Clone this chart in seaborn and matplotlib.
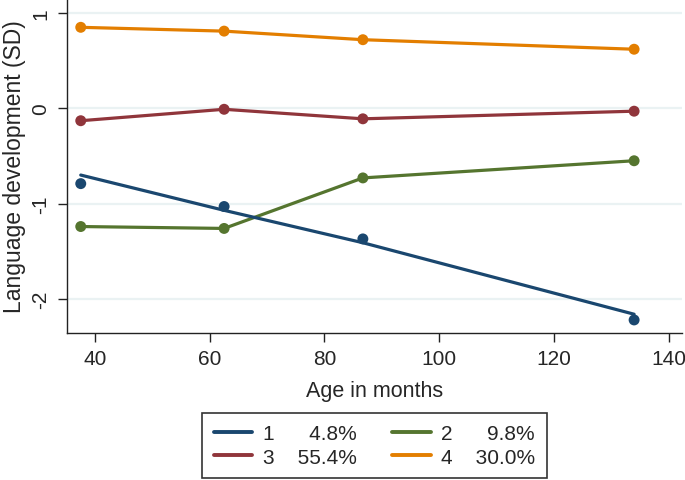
import matplotlib
matplotlib.use("Agg")
import matplotlib.pyplot as plt
import seaborn as sns
import pandas as pd
from matplotlib.lines import Line2D

# ---- data ----
ages = [37.5, 62.5, 86.7, 134.0]
class_names = ["1", "2", "3", "4"]
class_pct = ["4.8%", "9.8%", "55.4%", "30.0%"]
obs_1 = [-0.79, -1.03, -1.37, -2.22]
fit_1 = [-0.70, -1.07, -1.41, -2.16]
obs_2 = [-1.24, -1.26, -0.73, -0.55]
obs_3 = [-0.13, -0.01, -0.11, -0.03]
obs_4 = [0.85, 0.81, 0.72, 0.62]
x_ticks = [40, 60, 80, 100, 120, 140]
y_ticks = [-2, -1, 0, 1]

colors = {"1": "#1a476f", "2": "#55752f", "3": "#90353b", "4": "#e37e00"}

obs_df = pd.concat([
    pd.DataFrame({"age": ages, "value": v, "cls": c})
    for c, v in zip(class_names, [obs_1, obs_2, obs_3, obs_4])
], ignore_index=True)
fit_df = pd.concat([
    pd.DataFrame({"age": ages, "value": v, "cls": c})
    for c, v in zip(class_names, [fit_1, obs_2, obs_3, obs_4])
], ignore_index=True)

sns.set_style("white")
plt.rcParams["font.family"] = ["Liberation Sans", "DejaVu Sans"]

fig = plt.figure(figsize=(6.85, 4.81), dpi=100)
ax = fig.add_axes([66.7 / 685, 1 - 334 / 481, (681.7 - 66.7) / 685, 334 / 481])

for yt in y_ticks:
    ax.axhline(yt, color="#eaf2f3", lw=1.6, zorder=0)

order = ["4", "3", "2", "1"]
for c in order:
    sub_f = fit_df[fit_df.cls == c]
    sub_o = obs_df[obs_df.cls == c]
    sns.lineplot(data=sub_f, x="age", y="value", color=colors[c], lw=2.3,
                 ax=ax, legend=False, zorder=3, sort=True, estimator=None)
    sns.scatterplot(data=sub_o, x="age", y="value", color=colors[c], s=62,
                    edgecolor="none", ax=ax, legend=False, zorder=4)

ax.set_xlim(35.05, 142.3)
ax.set_ylim(-2.357, 1.147)
ax.set_xticks(x_ticks)
ax.set_yticks(y_ticks)
ax.set_xticklabels([str(t) for t in x_ticks], fontsize=15)
ax.set_yticklabels([str(t) for t in y_ticks], fontsize=15, rotation=90, va="center")
ax.tick_params(axis="both", direction="out", length=6.3, width=1.0, color="#222222",
               pad=5.5, left=True, bottom=True)
ax.set_xlabel("Age in months", fontsize=15.5, labelpad=8)
ax.set_ylabel("Language development (SD)", fontsize=16.5, labelpad=4)

for s in ["top", "right"]:
    ax.spines[s].set_visible(False)
for s in ["left", "bottom"]:
    ax.spines[s].set_color("#222222")
    ax.spines[s].set_linewidth(1.0)

handles = [Line2D([0], [0], color=colors[c], lw=2.8) for c in ["1", "3", "2", "4"]]
labels = [
    f"{class_names[0]}      {class_pct[0]}",
    f"{class_names[2]}    {class_pct[2]}",
    f"{class_names[1]}      {class_pct[1]}",
    f"{class_names[3]}    {class_pct[3]}",
]
leg = fig.legend(handles, labels, ncol=2, loc="center",
                 bbox_to_anchor=(374.5 / 685, 1 - 446.5 / 481),
                 fontsize=15, frameon=True, fancybox=False, edgecolor="black",
                 handlelength=1.85, handletextpad=0.5, columnspacing=1.7,
                 labelspacing=0.2, borderpad=0.55)
leg.get_frame().set_linewidth(1.2)

fig.savefig("out.png", dpi=100, facecolor="white")
